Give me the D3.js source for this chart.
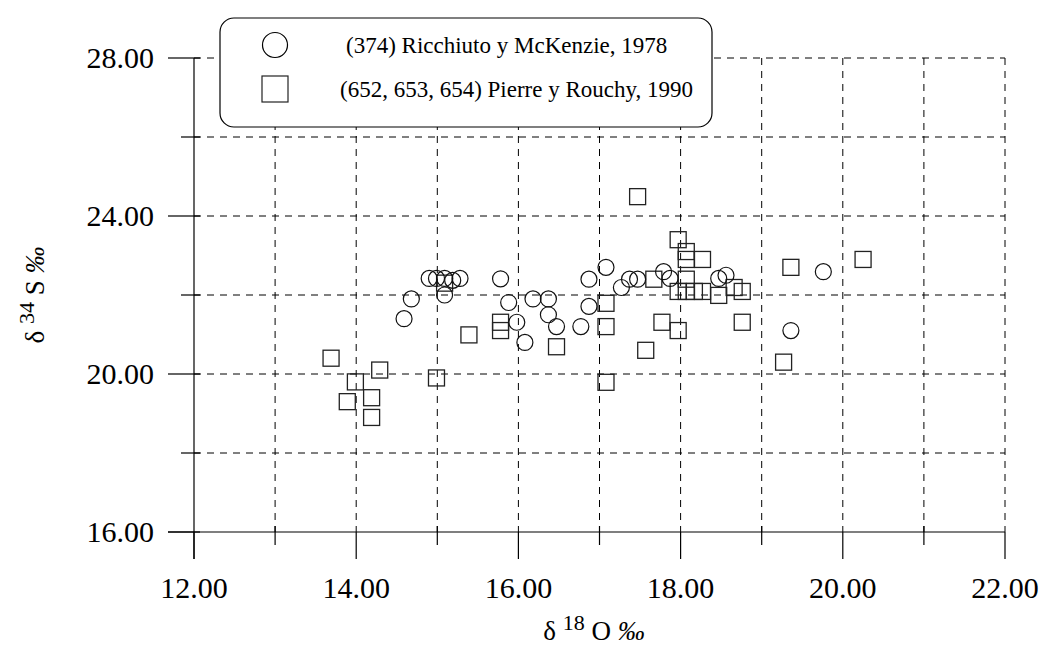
<!DOCTYPE html>
<html>
<head>
<meta charset="utf-8">
<script src="https://cdn.jsdelivr.net/npm/d3@7"></script>
<style>
	html, body { margin: 0; padding: 0; background: #fff; }
	svg { display: block; }
</style>
</head>
<body>
<div id="chart"></div>
<script>
// Data (δ18O ‰, δ34S ‰)
const ricchiutoX = [14.59, 14.68, 14.90, 14.99, 15.09, 15.19, 15.28, 15.09, 15.78, 15.88, 15.98, 16.08, 16.18, 16.37, 16.37, 16.47, 16.77, 16.87, 16.87, 17.08, 17.27, 17.37, 17.47, 17.79, 17.87, 18.47, 18.56, 19.36, 19.76];
const ricchiutoY = [21.40, 21.90, 22.42, 22.42, 22.42, 22.37, 22.42, 22.00, 22.41, 21.81, 21.31, 20.80, 21.90, 21.90, 21.50, 21.20, 21.20, 22.40, 21.71, 22.70, 22.19, 22.40, 22.40, 22.59, 22.42, 22.42, 22.50, 21.10, 22.59];

const pierreX = [13.69, 13.99, 14.29, 13.89, 14.19, 14.19, 14.99, 15.09, 15.39, 15.78, 15.78, 16.47, 17.47, 17.97, 18.07, 18.07, 18.27, 17.67, 18.07, 17.97, 18.07, 18.17, 18.27, 18.47, 18.66, 18.76, 17.08, 17.08, 17.77, 17.97, 17.57, 18.76, 17.08, 19.36, 19.27, 20.25];
const pierreY = [20.40, 19.80, 20.10, 19.30, 19.40, 18.90, 19.90, 22.30, 20.99, 21.31, 21.10, 20.69, 24.49, 23.40, 23.10, 22.90, 22.90, 22.40, 22.40, 22.09, 22.09, 22.09, 22.09, 21.99, 22.19, 22.09, 21.79, 21.20, 21.31, 21.10, 20.60, 21.31, 19.79, 22.70, 20.30, 22.90];

const xMajorTicks = [12, 14, 16, 18, 20, 22];
const xMinorTicks = [13, 15, 17, 19, 21];
const yMajorTicks = [16, 20, 24, 28];
const yMinorTicks = [18, 22, 26];
const xGrid = [13, 14, 15, 16, 17, 18, 19, 20, 21, 22];
const yGrid = [18, 20, 22, 24, 26, 28];

const legendLabels = ["(374) Ricchiuto y McKenzie, 1978", "(652, 653, 654) Pierre y Rouchy, 1990"];

(function () {
	const width = 1039;
	const height = 646;
	const FONT = "'Liberation Serif', 'Times New Roman', serif";
	const INK = "#000";
	const DASH = "7,6";

	const svg = d3.select("#chart")
		.append("svg")
		.attr("width", width)
		.attr("height", height)
		.style("font-family", FONT);

	const x = d3.scaleLinear().domain([12, 22]).range([194, 1005]);
	const y = d3.scaleLinear().domain([16, 28]).range([532, 58]);

	// Grid
	const grid = svg.append("g").attr("stroke", INK).attr("stroke-width", 1).attr("stroke-dasharray", DASH);
	grid.selectAll("line.v").data(xGrid).enter().append("line")
		.attr("x1", d => x(d)).attr("x2", d => x(d))
		.attr("y1", y(28)).attr("y2", y(16));
	grid.selectAll("line.h").data(yGrid).enter().append("line")
		.attr("x1", x(12)).attr("x2", x(22))
		.attr("y1", d => y(d)).attr("y2", d => y(d));

	// Axes lines + ticks
	const axes = svg.append("g").attr("stroke", INK).attr("stroke-width", 1.2);
	axes.append("line").attr("x1", x(12)).attr("x2", x(12)).attr("y1", y(28)).attr("y2", y(16) + 27);
	axes.append("line").attr("x1", x(12) - 26).attr("x2", x(22)).attr("y1", y(16)).attr("y2", y(16));

	axes.selectAll("line.xmaj").data(xMajorTicks).enter().append("line")
		.attr("x1", d => x(d)).attr("x2", d => x(d))
		.attr("y1", y(16)).attr("y2", y(16) + 27);
	axes.selectAll("line.xmin").data(xMinorTicks).enter().append("line")
		.attr("x1", d => x(d)).attr("x2", d => x(d))
		.attr("y1", y(16) - 6).attr("y2", y(16) + 13);
	axes.selectAll("line.ymaj").data(yMajorTicks).enter().append("line")
		.attr("x1", x(12) - 26).attr("x2", x(12) + 6)
		.attr("y1", d => y(d)).attr("y2", d => y(d));
	axes.selectAll("line.ymin").data(yMinorTicks).enter().append("line")
		.attr("x1", x(12) - 13).attr("x2", x(12) + 6)
		.attr("y1", d => y(d)).attr("y2", d => y(d));

	// Tick labels
	svg.selectAll("text.xt").data(xMajorTicks).enter().append("text")
		.attr("x", d => x(d))
		.attr("y", 598)
		.attr("text-anchor", "middle")
		.style("font-size", "30px")
		.attr("fill", INK)
		.text(d => d.toFixed(2));
	svg.selectAll("text.yt").data(yMajorTicks).enter().append("text")
		.attr("x", 154)
		.attr("y", d => y(d) + 10)
		.attr("text-anchor", "end")
		.style("font-size", "30px")
		.attr("fill", INK)
		.text(d => d.toFixed(2));

	// Axis titles
	function title(g, sup, rest) {
		g.append("tspan").text("δ ");
		g.append("tspan").attr("dy", -10).style("font-size", "22px").text(sup);
		g.append("tspan").attr("dy", 10).text(" " + rest + " ");
		g.append("tspan").style("font-style", "italic").text("‰");
	}
	const xt = svg.append("text")
		.attr("x", 594).attr("y", 640)
		.attr("text-anchor", "middle")
		.style("font-size", "27px")
		.attr("fill", INK);
	title(xt, "18", "O");

	const yt = svg.append("text")
		.attr("transform", "translate(44, 295) rotate(-90)")
		.attr("text-anchor", "middle")
		.style("font-size", "27px")
		.attr("fill", INK);
	title(yt, "34", "S");

	// Markers
	const ricchiuto = ricchiutoX.map((v, i) => [v, ricchiutoY[i]]);
	const pierre = pierreX.map((v, i) => [v, pierreY[i]]);
	const R = 8;

	svg.append("g").selectAll("rect").data(pierre).enter().append("rect")
		.attr("x", d => x(d[0]) - R).attr("y", d => y(d[1]) - R)
		.attr("width", 2 * R).attr("height", 2 * R)
		.attr("fill", "none").attr("stroke", "#222").attr("stroke-width", 1.3);
	svg.append("g").selectAll("circle").data(ricchiuto).enter().append("circle")
		.attr("cx", d => x(d[0])).attr("cy", d => y(d[1])).attr("r", R)
		.attr("fill", "none").attr("stroke", "#111").attr("stroke-width", 1.2);

	// Legend
	const lg = svg.append("g");
	lg.append("rect")
		.attr("x", 220).attr("y", 18).attr("width", 492).attr("height", 109)
		.attr("rx", 14).attr("ry", 14)
		.attr("fill", "#fff").attr("stroke", INK).attr("stroke-width", 1.2);
	lg.append("circle").attr("cx", 275).attr("cy", 45).attr("r", 12.5)
		.attr("fill", "none").attr("stroke", INK).attr("stroke-width", 1.2);
	lg.append("rect").attr("x", 262).attr("y", 76).attr("width", 26).attr("height", 26)
		.attr("fill", "none").attr("stroke", "#222").attr("stroke-width", 1.2);
	lg.selectAll("text").data(legendLabels).enter().append("text")
		.attr("x", (d, i) => (i === 0 ? 346 : 340))
		.attr("y", (d, i) => (i === 0 ? 53 : 97))
		.style("font-size", "23px")
		.attr("fill", INK)
		.text(d => d);
})();
</script>
</body>
</html>
